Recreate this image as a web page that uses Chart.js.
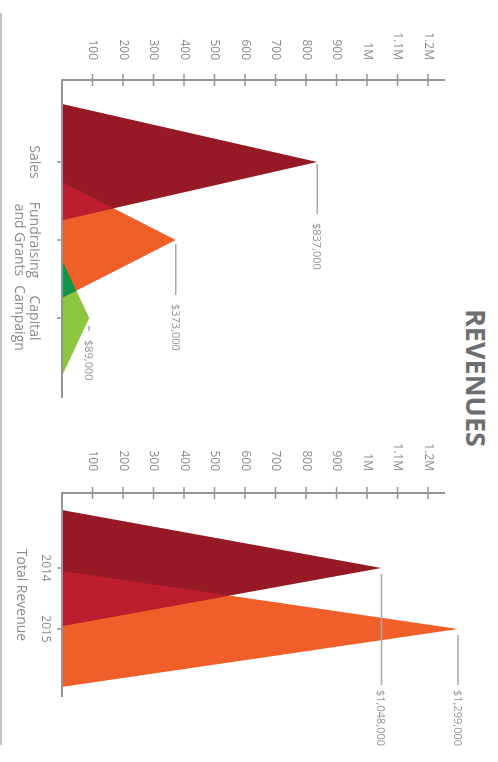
<!DOCTYPE html>
<html>
<head>
<meta charset="utf-8">
<script src="https://cdn.jsdelivr.net/npm/chart.js@4.4.1/dist/chart.umd.min.js"></script>
<style>
  html, body { margin: 0; padding: 0; background: #fff; overflow: hidden; }
  /* the infographic is laid out landscape and turned a quarter clockwise */
  #stage { position: absolute; left: 0; top: 0; width: 762px; height: 498px;
           transform-origin: 0 0; transform: translate(498px, 0) rotate(90deg); }
  #title { position: absolute; left: 0; top: 8px; width: 756px; text-align: center;
           font: bold 27px/27px 'Open Sans', sans-serif; color: #6d6e71; }
  #rule { position: absolute; left: 13px; top: 496px; width: 732px; height: 2px; background: #c4c4c4; }
  #left { position: absolute; left: 0; top: 0; }
  #right { position: absolute; left: 400px; top: 0; }
</style>
</head>
<body>
<div id="stage">
  <div id="title">REVENUES</div>
  <div id="rule"></div>
  <canvas id="left" width="400" height="498"></canvas>
  <canvas id="right" width="362" height="498"></canvas>
</div>
<script>
const revenueCategories = ["Sales", ["Fundraising", "and Grants"], ["Capital", "Campaign"]];
const revenueValues = [837000, 373000, 89000];
const totalYears = ["2014", "2015"];
const totalValues = [1048000, 1299000];
const totalTitle = "Total Revenue";
const valueTicks = [100000, 200000, 300000, 400000, 500000, 600000, 700000, 800000, 900000, 1000000, 1100000, 1200000];
const valueTickLabels = ["100", "200", "300", "400", "500", "600", "700", "800", "900", "1M", "1.1M", "1.2M"];

const DARK_RED = "#951a25";
const CRIMSON = "#bd1e2d";
const ORANGE = "#f05f2a";
const GREEN = "#0e9646";
const LIME = "#8dc63f";
const AXIS = "#939598";
const LABEL = "#8a8c8e";
const AXIS_TOP = 1256000;

Chart.defaults.font.family = "'Open Sans', sans-serif";

// each amount is a peak sitting on the baseline, centred on its category
function triangle(i, v, hw) {
  return [{x: i - hw, y: 0}, {x: i, y: v}, {x: i + hw, y: 0}];
}
// where two neighbouring peaks overlap
function overlap(i, v1, v2, hw) {
  const j = i + 1;
  const x = (v1 * (i + hw) + v2 * (j - hw)) / (v1 + v2);
  const y = v1 * (i + hw - x) / hw;
  return [{x: j - hw, y: 0}, {x: x, y: y}, {x: i + hw, y: 0}];
}
function area(data, color, order) {
  return {data: data, backgroundColor: color, borderWidth: 0, pointRadius: 0,
          fill: "origin", tension: 0, order: order};
}
function money(v) {
  return "$" + String(v).replace(/\B(?=(\d{3})+(?!\d))/g, ",");
}

const axisMarks = {
  id: "axisMarks",
  afterDatasetsDraw(chart, args, opts) {
    const {ctx, chartArea: a, scales: {x, y}} = chart;
    ctx.save();
    ctx.strokeStyle = AXIS;
    ctx.lineWidth = 2;
    ctx.beginPath();
    ctx.moveTo(a.left, a.bottom); ctx.lineTo(a.right, a.bottom);
    ctx.moveTo(a.left, a.bottom + 1); ctx.lineTo(a.left, y.getPixelForValue(AXIS_TOP));
    ctx.stroke();
    ctx.lineWidth = 1.5;
    ctx.beginPath();
    valueTicks.forEach(v => {
      const py = y.getPixelForValue(v);
      ctx.moveTo(a.left - 6, py); ctx.lineTo(a.left + 6, py);
    });
    opts.values.forEach((v, i) => {
      const px = x.getPixelForValue(i);
      ctx.moveTo(px, a.bottom); ctx.lineTo(px, a.bottom + 5);
    });
    ctx.stroke();

    ctx.strokeStyle = "#a7a9ac";
    ctx.fillStyle = "#939598";
    ctx.font = "11px 'Open Sans', sans-serif";
    ctx.textBaseline = "middle";
    opts.values.forEach((v, i) => {
      const px = x.getPixelForValue(i), py = y.getPixelForValue(v);
      const x0 = px + opts.gap[i];
      const x1 = opts.endInset ? a.right - opts.endInset : x0 + opts.len[i];
      ctx.beginPath(); ctx.moveTo(x0, py); ctx.lineTo(x1, py); ctx.stroke();
      ctx.fillText(money(v), x1 + opts.textGap, py + 1);
    });
    ctx.restore();
  }
};

function valueAxis(width, pad) {
  return {
    type: "linear", position: "left", min: 0, max: 1315000,
    afterFit: s => { s.width = width; },
    afterBuildTicks: s => { s.ticks = valueTicks.map(v => ({value: v})); },
    grid: {display: true, drawOnChartArea: false, drawTicks: false},
    border: {display: false},
    ticks: {padding: pad, color: LABEL, font: {size: 12}, callback: (v, i) => valueTickLabels[i]}
  };
}
function categoryAxis(min, max, labels, size, pad, title) {
  return {
    type: "linear", position: "bottom", min: min, max: max,
    afterFit: s => { s.height = 62; },
    afterBuildTicks: s => { s.ticks = labels.map((c, i) => ({value: i})); },
    grid: {display: true, drawOnChartArea: false, drawTicks: false},
    border: {display: false},
    ticks: {padding: pad, color: LABEL, autoSkip: false, maxRotation: 0, minRotation: 0,
            font: {size: size, lineHeight: 1.1}, callback: (v, i) => labels[i]},
    title: title ? {display: true, text: title, color: LABEL, font: {size: 14}, padding: {top: 0, bottom: 13}}
                 : {display: false}
  };
}
const common = {
  responsive: false, animation: false, events: [],
  plugins: {legend: {display: false}, tooltip: {enabled: false}}
};

const hwLeft = 0.744;
new Chart(document.getElementById("left"), {
  type: "line",
  data: {
    datasets: [
      area(overlap(0, revenueValues[0], revenueValues[1], hwLeft), CRIMSON, 0),
      area(overlap(1, revenueValues[1], revenueValues[2], hwLeft), GREEN, 0),
      area(triangle(0, revenueValues[0], hwLeft), DARK_RED, 1),
      area(triangle(1, revenueValues[1], hwLeft), ORANGE, 1),
      area(triangle(2, revenueValues[2], hwLeft), LIME, 1)
    ]
  },
  options: Object.assign({}, common, {
    layout: {padding: {top: 35, right: 2, left: 0, bottom: 0}},
    scales: {x: categoryAxis(-1.0513, 3.0256, revenueCategories, 14, 20), y: valueAxis(80, 20)},
    plugins: Object.assign({}, common.plugins, {
      axisMarks: {values: revenueValues, gap: [2, 4, 8], len: [50, 51, 5], textGap: 9}
    })
  }),
  plugins: [axisMarks]
});

const hwRight = 0.95;
new Chart(document.getElementById("right"), {
  type: "line",
  data: {
    datasets: [
      area(overlap(0, totalValues[0], totalValues[1], hwRight), CRIMSON, 0),
      area(triangle(0, totalValues[0], hwRight), DARK_RED, 1),
      area(triangle(1, totalValues[1], hwRight), ORANGE, 1)
    ]
  },
  options: Object.assign({}, common, {
    layout: {padding: {top: 35, right: 65, left: 0, bottom: 0}},
    scales: {x: categoryAxis(-1.2295, 2.115, totalYears, 12, 10, totalTitle), y: valueAxis(93, 22)},
    plugins: Object.assign({}, common.plugins, {
      axisMarks: {values: totalValues, gap: [6, 6], endInset: 12, textGap: 5}
    })
  }),
  plugins: [axisMarks]
});
</script>
</body>
</html>
